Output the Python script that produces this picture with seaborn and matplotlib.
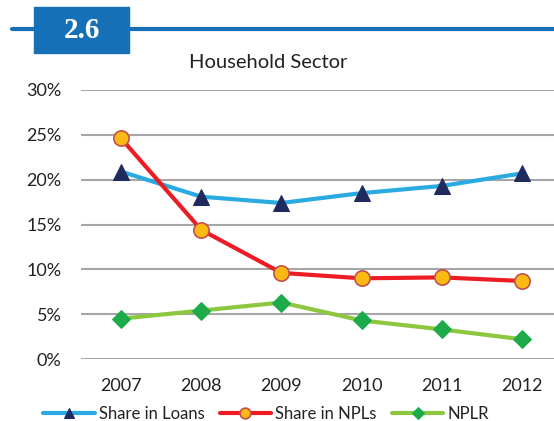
import numpy as np
import pandas as pd
import matplotlib
matplotlib.use('Agg')
import matplotlib.pyplot as plt
import seaborn as sns
from matplotlib.patches import Rectangle
from matplotlib.lines import Line2D
from matplotlib.ticker import PercentFormatter

# Data (values in %)
years = ['2007', '2008', '2009', '2010', '2011', '2012']
share_in_loans = [20.9, 18.1, 17.4, 18.5, 19.3, 20.7]
share_in_npls = [24.6, 14.4, 9.6, 9.0, 9.1, 8.7]
nplr = [4.5, 5.4, 6.3, 4.3, 3.3, 2.2]

title = 'Household Sector'
chart_number = '2.6'

sns.set_theme(style='white')
plt.rcParams['font.family'] = ['Lato', 'DejaVu Sans']

df = pd.DataFrame({
    'pos': np.arange(len(years)),
    'Share in Loans': share_in_loans,
    'Share in NPLs': share_in_npls,
    'NPLR': nplr,
})

fig = plt.figure(figsize=(5.54, 4.21), dpi=100)
ax = fig.add_axes([81 / 554, 62 / 421, 1 - 81 / 554, (359 - 90) / 421])

# Lines with markers
sns.lineplot(data=df, x='pos', y='Share in Loans', ax=ax, color='#29ABE2', lw=3,
             marker='^', markersize=11, markerfacecolor='#1F2A5E', markeredgecolor='#1F2A5E',
             label='Share in Loans', zorder=3)
sns.lineplot(data=df, x='pos', y='Share in NPLs', ax=ax, color='#ED1C24', lw=3,
             marker='o', markersize=11, markerfacecolor='#FDB913', markeredgecolor='#C0504D',
             markeredgewidth=1.2, label='Share in NPLs', zorder=4)
sns.lineplot(data=df, x='pos', y='NPLR', ax=ax, color='#8DC63F', lw=3,
             marker='D', markersize=9, markerfacecolor='#1DAA4B', markeredgecolor='#1DAA4B',
             label='NPLR', zorder=3)

ax.set_ylim(0, 30)
ax.set_yticks(np.arange(0, 31, 5))
ax.yaxis.set_major_formatter(PercentFormatter(decimals=0))
ax.set_xlim(-0.5, 5.5 - 8 / 80.2)
ax.set_xticks(df['pos'])
ax.set_xticklabels(years)
ax.set_xlabel('')
ax.set_ylabel('')
ax.grid(axis='y', color='#A6A6A6', lw=1.5)
ax.set_axisbelow(True)
for s in ax.spines.values():
    s.set_visible(False)
ax.tick_params(axis='y', labelsize=13, pad=14, length=0, colors='#222222')
ax.tick_params(axis='x', labelsize=13, pad=14, length=0, colors='#222222')

fig.text(268 / 554, 1 - 62 / 421, title, fontsize=14.5, color='#222222',
         ha='center', va='center')

handles, labels = ax.get_legend_handles_labels()
ax.get_legend().remove()
fig.legend(handles, labels, loc='center', bbox_to_anchor=(266 / 554, 1 - 414 / 421), ncol=3,
           frameon=False, fontsize=12, handlelength=3.1, columnspacing=0.9,
           handletextpad=0.25, markerscale=0.7, labelcolor='#222222')

# Header band with the chart number
fig.add_artist(Line2D([12 / 554, 1], [1 - 29 / 421, 1 - 29 / 421], color='#1570B8', lw=3,
                      transform=fig.transFigure))
fig.add_artist(Rectangle((34 / 554, 1 - 53 / 421), 95 / 554, 46 / 421, color='#1570B8',
                         transform=fig.transFigure, zorder=5))
fig.text(82 / 554, 1 - 30 / 421, chart_number, color='white', fontsize=21, fontweight='bold',
         family='Liberation Serif', ha='center', va='center', zorder=6)

fig.savefig('out.png', dpi=100)
